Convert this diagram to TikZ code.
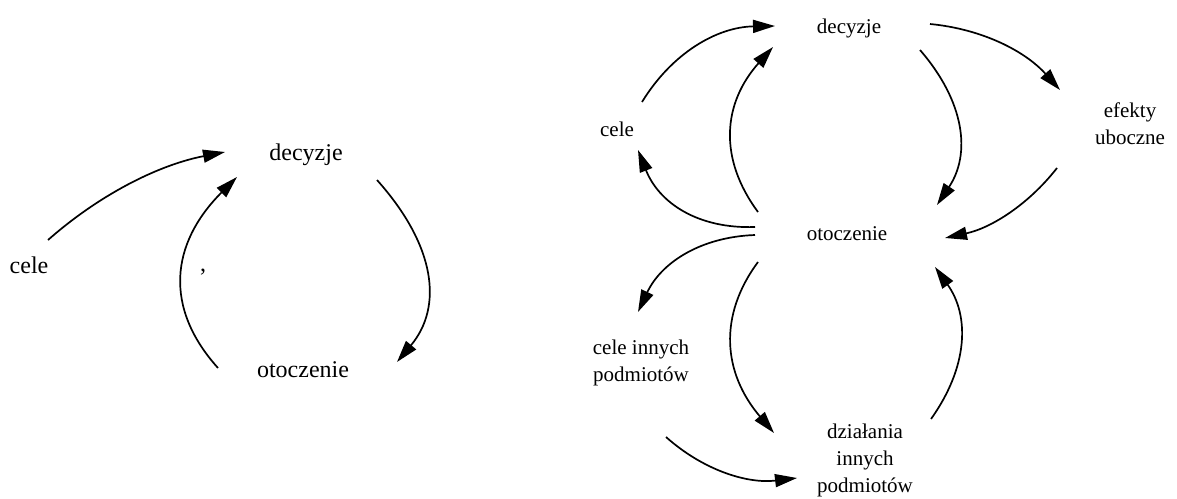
\documentclass[tikz,border=0pt]{standalone}
\usepackage{fontspec}
\setmainfont{Liberation Serif}
\usetikzlibrary{arrows.meta}
\tikzset{txt/.style={inner sep=0pt, font=\fontsize{12}{14}\selectfont}}
\tikzset{txts/.style={inner sep=0pt, align=center, font=\fontsize{10.5}{13.5}\selectfont}}
\tikzset{arr/.style={line width=0.85pt, -{Triangle[length=11pt,width=6.5pt]}}}
\begin{document}
\begin{tikzpicture}[x=0.5pt,y=-0.5pt]
\useasboundingbox (0,0) rectangle (1177,498);
% left loop
\node[txt,anchor=base] (dec1) at (306,160) {decyzje};
\node[txt,anchor=base] (cel1) at (29,273) {cele};
\node[txt,anchor=base] (oto1) at (303,377) {otoczenie};
\node[txt,anchor=base] (comma) at (203,271) {,};
\coordinate (l1a) at (48,240);   \coordinate (l1b) at (225,152);
\coordinate (l2a) at (218,368);  \coordinate (l2b) at (237,177);
\coordinate (l3a) at (377,180);  \coordinate (l3b) at (397,362);
\draw[arr] (l1a) .. controls (99,195) and (158,165) .. (l1b);
\draw[arr] (l2a) .. controls (164,308) and (170,244) .. (l2b);
\draw[arr] (l3a) .. controls (436,246) and (443,307) .. (l3b);
% right loop
\node[txts,anchor=base] (dec2) at (849,33) {decyzje};
\node[txts,anchor=base] (cel2) at (617,136) {cele};
\node[txts,anchor=base] (oto2) at (847,240) {otoczenie};
\node[txts] (efe) at (1130,124) {efekty\\uboczne};
\node[txts] (cin) at (641,363) {cele innych\\podmiotów};
\node[txts] (dzi) at (865,460) {działania\\innych\\podmiotów};
\coordinate (r1a) at (642,102);  \coordinate (r1b) at (775,26);
\coordinate (r2a) at (758,212);  \coordinate (r2b) at (773,47);
\coordinate (r3a) at (755,227);  \coordinate (r3b) at (638,150);
\coordinate (r4a) at (920,50);   \coordinate (r4b) at (937,205);
\coordinate (r5a) at (930,24);   \coordinate (r5b) at (1060,90);
\coordinate (r6a) at (1057,168); \coordinate (r6b) at (945,238);
\coordinate (r7a) at (755,235);  \coordinate (r7b) at (638,312);
\coordinate (r8a) at (758,262);  \coordinate (r8b) at (774,433);
\coordinate (r9a) at (931,419);  \coordinate (r9b) at (935,267);
\coordinate (r10a) at (666,437); \coordinate (r10b) at (797,478);
\draw[arr] (r1a) .. controls (672,53) and (717,27) .. (r1b);
\draw[arr] (r2a) .. controls (718,158) and (723,103) .. (r2b);
\draw[arr] (r3a) .. controls (698,229) and (659,203) .. (r3b);
\draw[arr] (r4a) .. controls (965,102) and (971,154) .. (r4b);
\draw[arr] (r5a) .. controls (982,29) and (1025,51) .. (r5b);
\draw[arr] (r6a) .. controls (1028,205) and (991,228) .. (r6b);
\draw[arr] (r7a) .. controls (700,237) and (661,263) .. (r7b);
\draw[arr] (r8a) .. controls (718,316) and (723,373) .. (r8b);
\draw[arr] (r9a) .. controls (968,367) and (970,316) .. (r9b);
\draw[arr] (r10a) .. controls (703,470) and (747,484) .. (r10b);
\end{tikzpicture}
\end{document}
